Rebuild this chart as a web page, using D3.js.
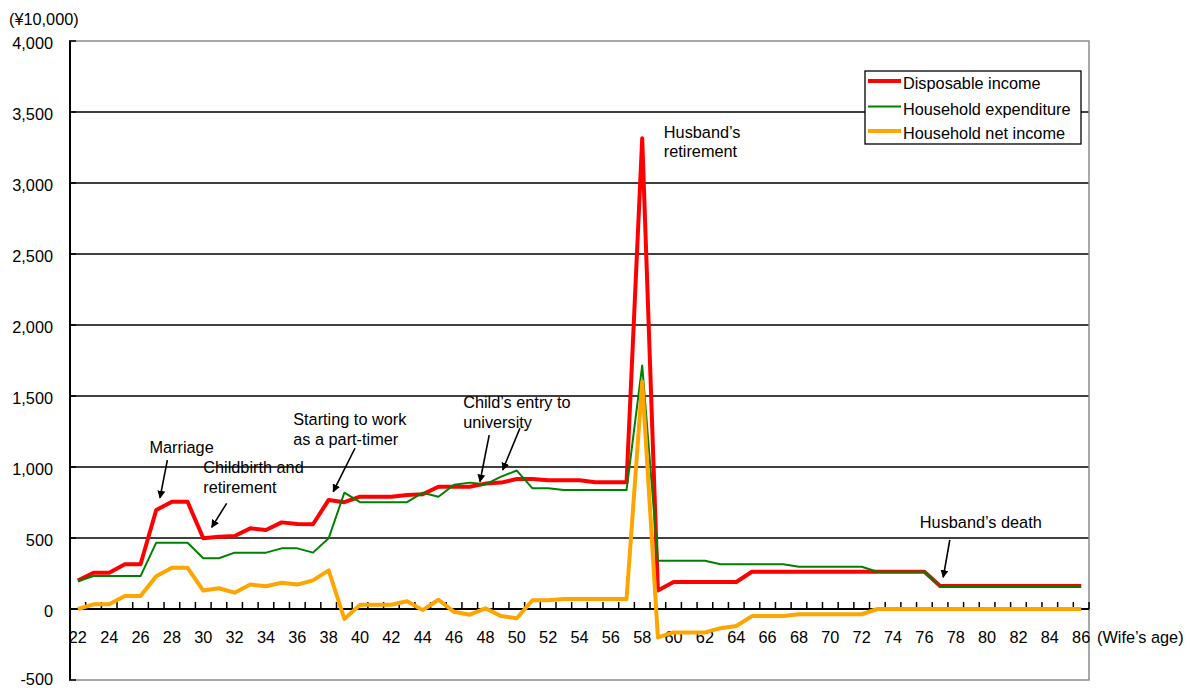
<!DOCTYPE html>
<html><head><meta charset="utf-8">
<script src="https://cdn.jsdelivr.net/npm/d3@7"></script>
<style>
body{margin:0;background:#fff;}
svg text{font-family:"Liberation Sans",Arial,sans-serif;font-size:16.3px;fill:#000;}
</style></head><body>
<svg id="c" width="1190" height="688"></svg>
<script>
// ---------- DATA ----------
const ages = [22,23,24,25,26,27,28,29,30,31,32,33,34,35,36,37,38,39,40,41,42,43,44,45,46,47,48,49,50,51,52,53,54,
  55,56,57,58,59,60,61,62,63,64,65,66,67,68,69,70,71,72,73,74,75,76,77,78,79,80,81,82,83,84,85,86];

const disposableIncome = [200,255,255,315,315,697,755,755,498,509,514,568,556,610,599,597,768,752,
  791,791,791,803,808,861,861,861,883,890,915,915,906,906,906,892,892,892,3315,
  130,190,190,190,190,190,262,262,262,262,262,262,262,262,262,262,262,262,
  162,162,162,162,162,162,162,162,162,162];

const householdExpenditure = [195,232,232,232,232,467,467,467,357,357,397,397,397,427,427,397,498,819,
  752,752,752,752,819,791,875,890,878,932,975,850,850,838,838,838,838,838,1715,
  340,340,340,340,315,315,315,315,315,298,298,298,298,298,262,262,262,262,
  162,162,162,162,162,162,162,162,162,162];

const householdNetIncome = [0,33,33,92,92,230,290,290,130,146,115,172,160,185,172,202,272,-70,
  30,30,30,55,-8,65,-20,-40,5,-50,-65,62,62,70,70,70,70,70,1600,
  -200,-165,-165,-165,-135,-120,-50,-50,-50,-37,-37,-37,-37,-37,0,0,0,0,
  0,0,0,0,0,0,0,0,0,0];

const seriesNames = ["Disposable income","Household expenditure","Household net income"];
const seriesColors = ["#ff0000","#008000","#ffa500"];
const seriesWidths = [4,2,4];

const yTickValues = [-500,0,500,1000,1500,2000,2500,3000,3500,4000];
const xTickLabels = [22,24,26,28,30,32,34,36,38,40,42,44,46,48,50,52,54,56,58,60,62,64,66,68,70,72,74,76,78,80,82,84,86];

const yUnitLabel = "(\u00a510,000)";
const xUnitLabel = "(Wife\u2019s age)";

// annotations: text anchored at (age, value); arrows from (age,value) to (age,value)
const annotationTexts = [
  {lines:["Marriage"], age:26.57, value:1099},
  {lines:["Childbirth and","retirement"], age:30.0, value:956},
  {lines:["Starting to work","as a part-timer"], age:35.74, value:1296},
  {lines:["Child\u2019s entry to","university"], age:46.58, value:1413},
  {lines:["Husband\u2019s","retirement"], age:59.38, value:3320},
  {lines:["Husband\u2019s death"], age:75.71, value:568}
];
const annotationArrows = [
  {from:[27.71,1049], to:[27.24,782]},
  {from:[31.49,744], to:[30.54,575]},
  {from:[39.68,1132], to:[38.29,826]},
  {from:[48.24,1225], to:[47.65,896]},
  {from:[50.2,1273], to:[49.1,979]},
  {from:[77.62,486], to:[77.2,223]}
];

// ---------- LAYOUT ----------
const L = 70, R = 1089, T = 41, B = 680;
const svg = d3.select("#c");

const x = d3.scaleBand().domain(ages).range([L, R]).padding(0);
const bw = x.bandwidth();
const xc = a => x(a) + bw / 2;
const xLin = d3.scaleLinear().domain([ages[0] - 0.5, ages[ages.length - 1] + 0.5]).range([L, R]);
const y = d3.scaleLinear().domain([-500, 4000]).range([B, T]);

// gridlines
svg.append("g").selectAll("line")
  .data(yTickValues.filter(v => v > 0 && v < 4000))
  .join("line")
  .attr("x1", L).attr("x2", R)
  .attr("y1", d => y(d)).attr("y2", d => y(d))
  .attr("stroke", "#000").attr("stroke-width", 1.3);

// plot border
svg.append("rect").attr("x", L).attr("y", T).attr("width", R - L).attr("height", B - T)
  .attr("fill", "none").attr("stroke", "#8c8c8c").attr("stroke-width", 1.5);

// left axis
svg.append("line").attr("x1", L).attr("x2", L).attr("y1", T).attr("y2", B)
  .attr("stroke", "#000").attr("stroke-width", 2);
svg.append("g").selectAll("line").data(yTickValues).join("line")
  .attr("x1", L - 1).attr("x2", L + 6)
  .attr("y1", d => y(d)).attr("y2", d => y(d))
  .attr("stroke", "#000").attr("stroke-width", 1.5);

const fmt = d3.format(",");
svg.append("g").selectAll("text").data(yTickValues).join("text")
  .attr("x", 53).attr("y", d => Math.min(y(d) + 8, 685))
  .attr("text-anchor", "end")
  .text(d => (d < 0 ? "-" : "") + fmt(Math.abs(d)));

svg.append("text").attr("x", 9).attr("y", 25).text(yUnitLabel);

// zero axis
svg.append("line").attr("x1", L).attr("x2", R).attr("y1", y(0)).attr("y2", y(0))
  .attr("stroke", "#000").attr("stroke-width", 2);
svg.append("g").selectAll("line").data(ages).join("line")
  .attr("x1", d => x(d) + bw).attr("x2", d => x(d) + bw)
  .attr("y1", y(0) - 7).attr("y2", y(0))
  .attr("stroke", "#000").attr("stroke-width", 1.5);

svg.append("g").selectAll("text").data(xTickLabels).join("text")
  .attr("x", d => xc(d)).attr("y", 643)
  .attr("text-anchor", "middle")
  .text(d => d);
svg.append("text").attr("x", 1097).attr("y", 643).text(xUnitLabel);

// series lines
const seriesData = [disposableIncome, householdExpenditure, householdNetIncome];
const line = d3.line().x((d, i) => xc(ages[i])).y(d => y(d));
seriesData.forEach((s, k) => {
  svg.append("path").datum(s)
    .attr("d", line)
    .attr("fill", "none")
    .attr("stroke", seriesColors[k])
    .attr("stroke-width", seriesWidths[k])
    .attr("stroke-linejoin", "round");
});

// annotations
svg.append("defs").append("marker")
  .attr("id", "ah").attr("viewBox", "0 0 10 10")
  .attr("refX", 9).attr("refY", 5)
  .attr("markerWidth", 5).attr("markerHeight", 5)
  .attr("markerUnits", "strokeWidth")
  .attr("orient", "auto")
  .append("path").attr("d", "M0,0 L10,5 L0,10 Z").attr("fill", "#000");

annotationArrows.forEach(a => {
  svg.append("line")
    .attr("x1", xLin(a.from[0])).attr("y1", y(a.from[1]))
    .attr("x2", xLin(a.to[0])).attr("y2", y(a.to[1]))
    .attr("stroke", "#000").attr("stroke-width", 1.6)
    .attr("marker-end", "url(#ah)");
});
annotationTexts.forEach(a => {
  const t = svg.append("text").attr("x", xLin(a.age)).attr("y", y(a.value));
  a.lines.forEach((ln, i) => {
    t.append("tspan").attr("x", xLin(a.age)).attr("dy", i === 0 ? 0 : 19.8).text(ln);
  });
});

// legend
const lg = svg.append("g");
lg.append("rect").attr("x", 865).attr("y", 71).attr("width", 216).attr("height", 73)
  .attr("fill", "#fff").attr("stroke", "#000").attr("stroke-width", 1.3);
const rowY = [81, 106.5, 131];
seriesNames.forEach((n, k) => {
  lg.append("line").attr("x1", 868).attr("x2", 901)
    .attr("y1", rowY[k]).attr("y2", rowY[k])
    .attr("stroke", seriesColors[k]).attr("stroke-width", seriesWidths[k]);
  lg.append("text").attr("x", 903).attr("y", rowY[k] + 8).text(n);
});
</script>
</body></html>
